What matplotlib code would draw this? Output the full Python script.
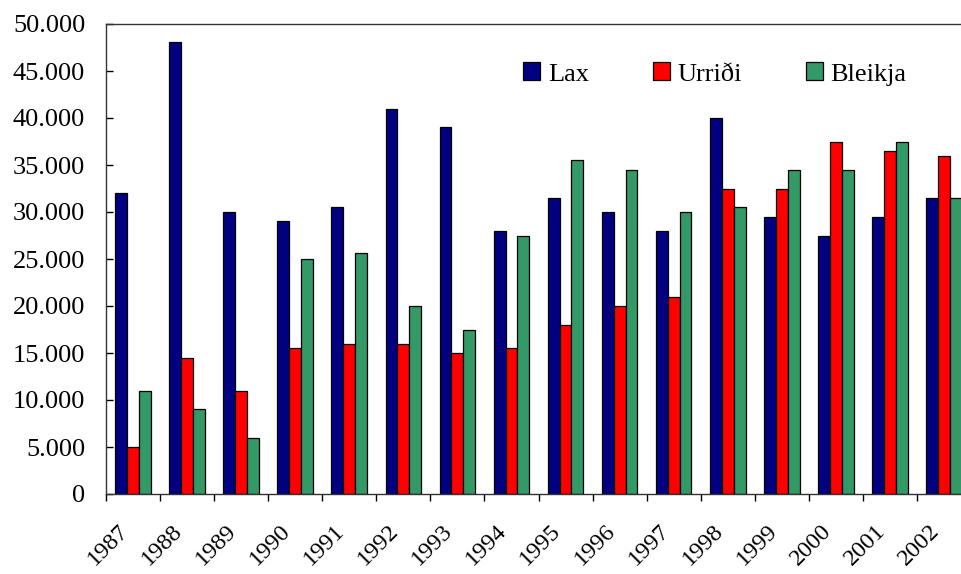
import matplotlib
matplotlib.use('Agg')
import matplotlib.pyplot as plt
from matplotlib.ticker import FuncFormatter, FixedLocator
import numpy as np

years = ['1987', '1988', '1989', '1990', '1991', '1992', '1993', '1994',
         '1995', '1996', '1997', '1998', '1999', '2000', '2001', '2002']
lax = [32000, 48100, 30000, 29000, 30500, 41000, 39000, 28000,
       31500, 30000, 28000, 40000, 29500, 27500, 29500, 31500]
urridi = [5000, 14500, 11000, 15500, 16000, 16000, 15000, 15500,
          18000, 20000, 21000, 32500, 32500, 37500, 36500, 36000]
bleikja = [11000, 9000, 6000, 25000, 25600, 20000, 17500, 27500,
           35500, 34500, 30000, 30500, 34500, 34500, 37500, 31500]

series = [('Lax', lax, '#000080'), ('Urriði', urridi, '#FF0000'), ('Bleikja', bleikja, '#339966')]

plt.rcParams['font.family'] = ['Liberation Serif', 'DejaVu Serif']

fig = plt.figure(figsize=(9.61, 5.74), dpi=100)
# the right end of the plot area runs past the picture edge, as in the original
ax = fig.add_axes([106 / 961, 80 / 574, 865 / 961, 470 / 574])

x = np.arange(len(years))
w = 0.22
for k, (name, vals, col) in enumerate(series):
    ax.bar(x + 0.5 + (k - 1) * w, vals, width=w, color=col, edgecolor='black',
           linewidth=0.9, label=name)

ax.set_xlim(0, len(years))
ax.set_ylim(0, 50000)
ax.set_yticks(range(0, 50001, 5000))
ax.yaxis.set_major_formatter(FuncFormatter(lambda v, p: f'{int(v):,}'.replace(',', '.')))

# boundary ticks between categories, labels slightly right of each boundary
ax.xaxis.set_major_locator(FixedLocator(list(range(len(years) + 1))))
ax.xaxis.set_minor_locator(FixedLocator(list(x + 0.22)))
ax.set_xticklabels([], minor=False)
ax.set_xticklabels(years, minor=True, rotation=45, ha='right', va='top',
                   rotation_mode='anchor', fontsize=17.5)
ax.tick_params(axis='x', which='major', direction='out', length=5, width=1)
ax.tick_params(axis='x', which='minor', length=0, pad=19)
ax.tick_params(axis='y', direction='in', length=5, width=1, pad=15, labelsize=19)

ax.spines['right'].set_visible(False)
for s in ['left', 'bottom', 'top']:
    ax.spines[s].set_linewidth(1)
    ax.spines[s].set_color('#333333')

fig.legend(loc='center', bbox_to_anchor=(715 / 961, 1 - 74 / 574), ncol=3,
           frameon=False, fontsize=19, columnspacing=2.4, handlelength=0.65,
           handleheight=0.65, handletextpad=0.3)

fig.savefig('out.png', dpi=100)
